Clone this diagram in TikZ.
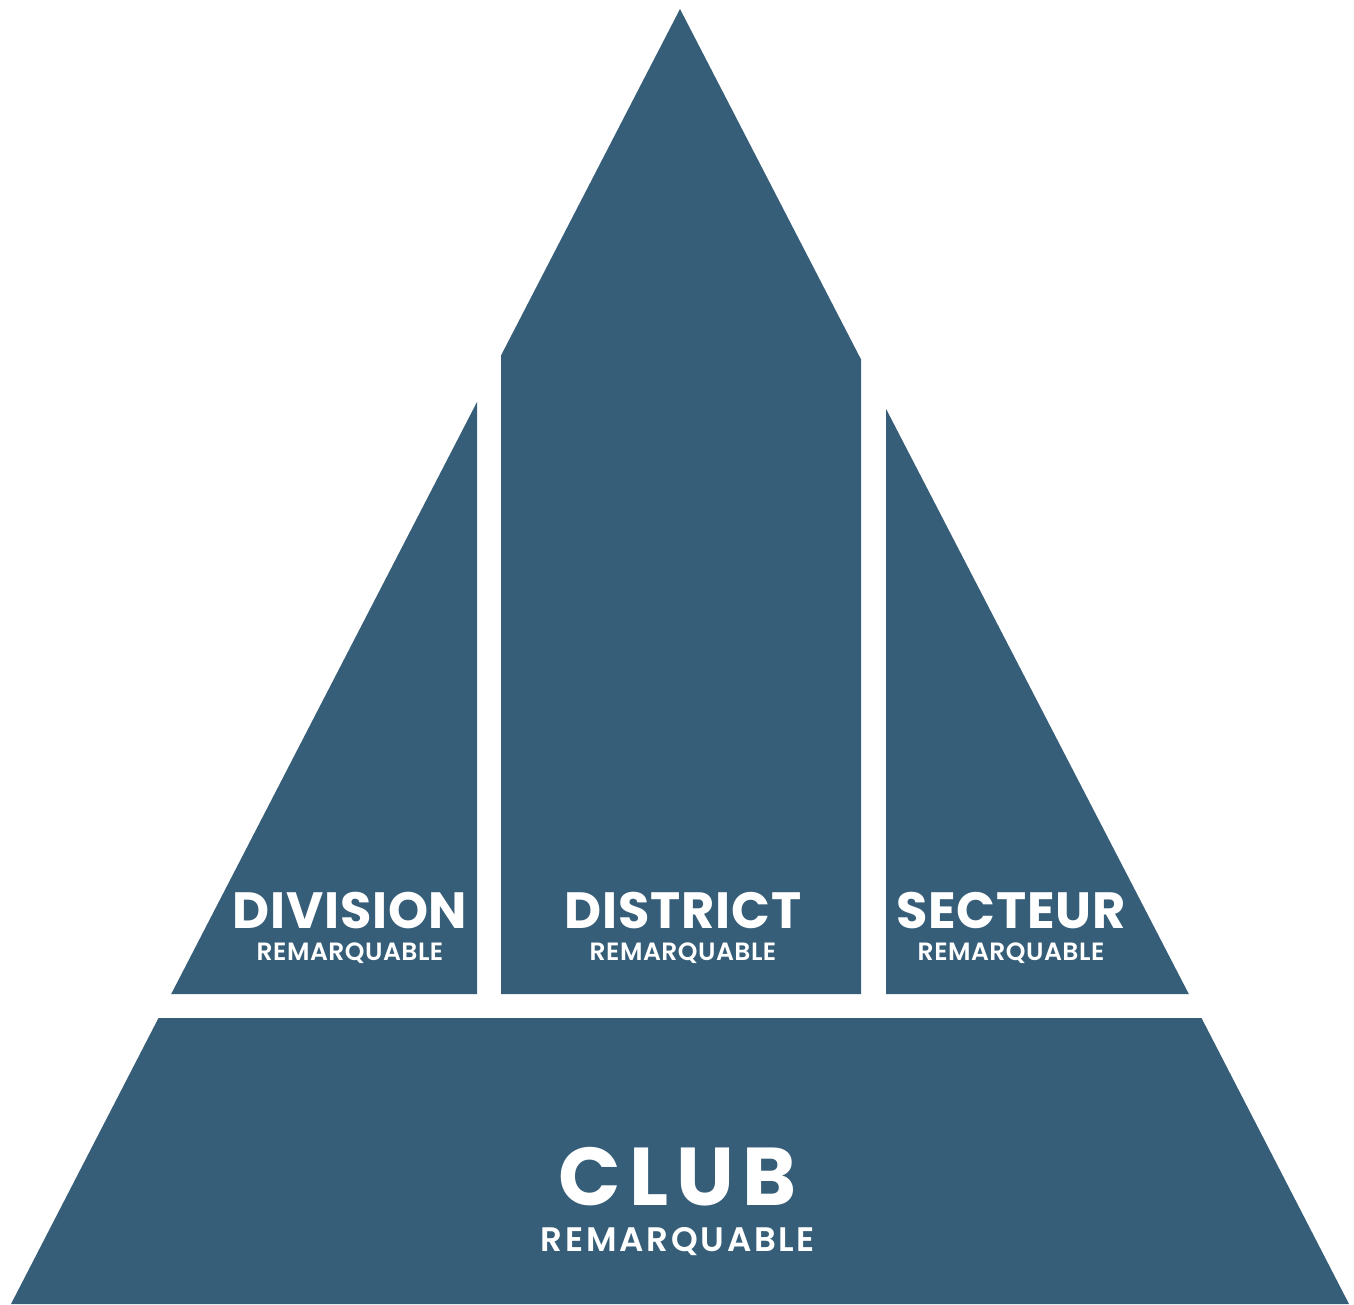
\documentclass[tikz,border=0pt]{standalone}
\usepackage{fontspec}
\setmainfont{Poppins}
\newfontfamily\semibfont{Poppins SemiBold}
\definecolor{pyr}{RGB}{54,94,120}
\begin{document}
\begin{tikzpicture}[x=1pt,y=-1pt,
  piece/.style={fill=pyr,draw=none},
  lbl/.style={text=white,inner sep=0pt,anchor=base,text depth=0pt},
  title/.style={lbl,font=\bfseries\fontsize{51}{51}\selectfont\addfontfeature{LetterSpace=1.5}},
  sub/.style={lbl,text height=18pt,font=\semibfont\fontsize{25}{25}\selectfont\addfontfeature{LetterSpace=2}},
  clubtitle/.style={lbl,font=\bfseries\fontsize{82}{82}\selectfont\addfontfeature{LetterSpace=10}},
  clubsub/.style={lbl,text height=24pt,font=\semibfont\fontsize{34}{34}\selectfont\addfontfeature{LetterSpace=8}}]
\useasboundingbox (0,0) rectangle (1354,1304);
% pieces
\fill[piece] (477,402) -- (477,994) -- (171.2,994) -- cycle;
\fill[piece] (501,355.5) -- (680,9) -- (861,359.4) -- (861,994) -- (501,994) -- cycle;
\fill[piece] (886,408.8) -- (886,994) -- (1188.8,994) -- cycle;
\fill[piece] (158.5,1018) -- (1201.5,1018) -- (1349,1304) -- (11,1304) -- cycle;
% labels
\node[title] (division) at (350,928) {DIVISION};
\node[sub] (divsub) at (350,960) {REMARQUABLE};
\node[title] (district) at (683,928) {DISTRICT};
\node[sub] (dissub) at (683,960) {REMARQUABLE};
\node[title] (secteur) at (1011,928) {SECTEUR};
\node[sub] (secsub) at (1011,960) {REMARQUABLE};
\node[clubtitle] (club) at (678,1205) {CLUB};
\node[clubsub] (clubsubn) at (678,1251) {REMARQUABLE};
\end{tikzpicture}
\end{document}
